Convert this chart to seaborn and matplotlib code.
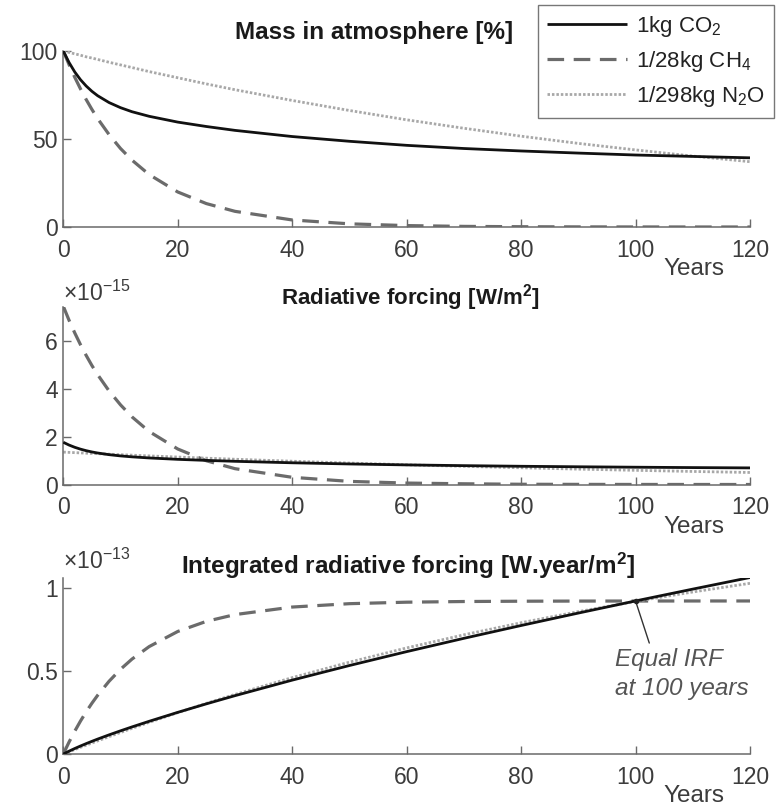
import numpy as np
import pandas as pd
import matplotlib
matplotlib.use("Agg")
import matplotlib.pyplot as plt
import seaborn as sns

# ---------------- data ----------------
years = [0, 1, 2, 3, 4, 5, 6, 8, 10, 12, 15, 20, 25, 30, 40, 50, 60, 70, 80, 90, 100, 110, 120]

mass_co2 = [100, 93.5, 88.1, 83.7, 80.1, 77.1, 74.6, 70.7, 67.8, 65.5, 62.9, 59.6, 57.1, 54.9,
            51.4, 48.7, 46.4, 44.6, 43.2, 42.0, 40.9, 40.1, 39.3]
mass_ch4 = [100, 92.3, 85.1, 78.5, 72.4, 66.8, 61.6, 52.5, 44.6, 38.0, 29.8, 19.9, 13.3, 8.9,
            4.0, 1.8, 0.8, 0.35, 0.16, 0.07, 0.03, 0.01, 0.006]
mass_n2o = [100, 99.2, 98.4, 97.6, 96.7, 96.0, 95.2, 93.6, 92.1, 90.6, 88.3, 84.8, 81.3, 78.0,
            71.9, 66.2, 60.9, 56.1, 51.6, 47.5, 43.8, 40.3, 37.1]

# radiative forcing, x 1e-15 W/m2
rf_co2 = [1.76, 1.645, 1.551, 1.474, 1.410, 1.357, 1.313, 1.244, 1.192, 1.153, 1.107, 1.049, 1.005,
          0.967, 0.905, 0.856, 0.817, 0.786, 0.760, 0.739, 0.721, 0.705, 0.692]
rf_ch4 = [7.43, 6.85, 6.32, 5.83, 5.38, 4.96, 4.58, 3.90, 3.32, 2.82, 2.21, 1.48, 0.99, 0.66,
          0.30, 0.13, 0.06, 0.03, 0.01, 0.005, 0.002, 0.001, 0.0]
rf_n2o = [1.35, 1.339, 1.328, 1.318, 1.305, 1.296, 1.285, 1.264, 1.243, 1.223, 1.192, 1.145, 1.098,
          1.053, 0.971, 0.894, 0.822, 0.757, 0.697, 0.641, 0.591, 0.544, 0.501]

# integrated radiative forcing, x 1e-13 W.year/m2
irf_co2 = [0, 0.0170, 0.0330, 0.0481, 0.0625, 0.0763, 0.0897, 0.1152, 0.1395, 0.1630, 0.1968, 0.2507,
           0.3020, 0.3512, 0.4447, 0.5327, 0.6163, 0.6964, 0.7736, 0.8485, 0.9215, 0.9927, 1.0626]
irf_ch4 = [0, 0.0714, 0.1373, 0.1981, 0.2542, 0.3057, 0.3534, 0.4380, 0.5100, 0.5713, 0.6465, 0.7377,
           0.7986, 0.8393, 0.8847, 0.9050, 0.9140, 0.9180, 0.9198, 0.9207, 0.9210, 0.9212, 0.9213]
irf_n2o = [0, 0.0134, 0.0268, 0.0400, 0.0531, 0.0661, 0.0790, 0.1045, 0.1295, 0.1542, 0.1905, 0.2490,
           0.3050, 0.3587, 0.4598, 0.5529, 0.6387, 0.7176, 0.7903, 0.8571, 0.9187, 0.9754, 1.0276]

labels = ["1kg CO$_2$", "1/28kg CH$_4$", "1/298kg N$_2$O"]
titles = ["Mass in atmosphere [%]",
          r"Radiative forcing [W/m$^{\mathbf{2}}$]",
          r"Integrated radiative forcing [W.year/m$^{\mathbf{2}}$]"]
x_ticks = [0, 20, 40, 60, 80, 100, 120]

# ---------------- style ----------------
sns.set_theme(style="ticks")
plt.rcParams["font.family"] = ["Liberation Sans", "DejaVu Sans"]
plt.rcParams["mathtext.fontset"] = "custom"
plt.rcParams["mathtext.rm"] = "Liberation Sans"
plt.rcParams["mathtext.it"] = "Liberation Sans:italic"
plt.rcParams["mathtext.bf"] = "Liberation Sans:bold"

TXT = "#3c3c3c"
SPINE = "#6a6a6a"
colors = ["#111111", "#6b6b6b", "#a8a8a8"]
TICK_FS = 16.5

W, H = 782, 806
fig = plt.figure(figsize=(W / 100, H / 100), dpi=100)

def px_axes(x0, y_top, x1, y_bot):
    return fig.add_axes([x0 / W, 1 - y_bot / H, (x1 - x0) / W, (y_bot - y_top) / H])

ax1 = px_axes(63.3, 51, 750, 227)
ax2 = px_axes(63.3, 307, 750, 484.5)
ax3 = px_axes(63.3, 577.5, 750, 754)

panels = [
    (ax1, [mass_co2, mass_ch4, mass_n2o], (0, 100), [0, 50, 100], ["0", "50", "100"]),
    (ax2, [rf_co2, rf_ch4, rf_n2o], (0, 7.4), [0, 2, 4, 6], ["0", "2", "4", "6"]),
    (ax3, [irf_co2, irf_ch4, irf_n2o], (0, 1.0626), [0, 0.5, 1], ["0", "0.5", "1"]),
]

styles = [
    dict(lw=2.0, ls="-"),
    dict(lw=2.3, dashes=(5.2, 3.0)),
    dict(lw=2.0, dashes=(0.9, 0.7)),
]

for ax, series, ylim, yt, ytl in panels:
    for i, vals in enumerate(series):
        df = pd.DataFrame({"year": years, "value": vals})
        st = styles[i]
        line_kw = dict(color=colors[i], linewidth=st["lw"], ax=ax, legend=False,
                       label=labels[i], zorder=3 - i if i != 2 else 2.5)
        sns.lineplot(data=df, x="year", y="value", **line_kw)
        ln = ax.lines[-1]
        if "dashes" in st:
            ln.set_dashes(st["dashes"])
        ln.set_solid_capstyle("butt")
    ax.set_xlim(0, 120)
    ax.set_ylim(*ylim)
    ax.set_xticks(x_ticks)
    ax.set_xticklabels([str(t) for t in x_ticks])
    ax.set_yticks(yt)
    ax.set_yticklabels(ytl)
    ax.set_xlabel("")
    ax.set_ylabel("")
    sns.despine(ax=ax)
    for s in ["left", "bottom"]:
        ax.spines[s].set_color(SPINE)
        ax.spines[s].set_linewidth(1.1)
    ax.tick_params(direction="in", length=6, width=1.0, color=SPINE,
                   labelsize=TICK_FS, labelcolor=TXT, pad=4)
    ax.tick_params(axis="x", pad=8.5)
    ax.patch.set_alpha(0)
    ax.text(0.919, -0.24, "Years", transform=ax.transAxes, ha="center", va="center",
            fontsize=17.5, color=TXT)

# Titles
fig.text(374 / W, 1 - 33 / H, titles[0], ha="center", va="center", fontsize=17.5,
         fontweight="bold", color="#1a1a1a")
fig.text(410 / W, 1 - 298 / H, titles[1], ha="center", va="center", fontsize=16,
         fontweight="bold", color="#1a1a1a")
fig.text(408 / W, 1 - 566 / H, titles[2], ha="center", va="center", fontsize=17.5,
         fontweight="bold", color="#1a1a1a")

# Exponent labels
fig.text(63 / W, 1 - 293 / H, r"$\times10^{-15}$", ha="left", va="center", fontsize=16.5, color=TXT)
fig.text(63 / W, 1 - 561 / H, r"$\times10^{-13}$", ha="left", va="center", fontsize=16.5, color=TXT)

# Annotation
ax3.annotate("", xy=(100, irf_co2[years.index(100)]), xytext=(102.4, 0.668),
             arrowprops=dict(arrowstyle="-", color="#333333", lw=1.0, shrinkA=0, shrinkB=0))
ax3.plot([100], [irf_co2[years.index(100)]], marker="o", ms=3, color="#222222", zorder=5)
ax3.text(96.4, 0.64, "Equal IRF\nat 100 years", ha="left", va="top", fontsize=17.5,
         style="italic", color="#555555", linespacing=1.35)

# Legend
handles = ax1.lines[:3]
leg = fig.legend(handles, labels, loc="upper left",
                 bbox_to_anchor=(538 / W, 1 - 5 / H), bbox_transform=fig.transFigure,
                 fontsize=16, frameon=True, fancybox=False, handlelength=3.6,
                 handletextpad=0.4, borderpad=0.4, labelspacing=0.45, borderaxespad=0)
leg.get_frame().set_edgecolor("#555555")
leg.get_frame().set_linewidth(1.0)
for t in leg.get_texts():
    t.set_color("#222222")

fig.savefig("out.png", dpi=100)
